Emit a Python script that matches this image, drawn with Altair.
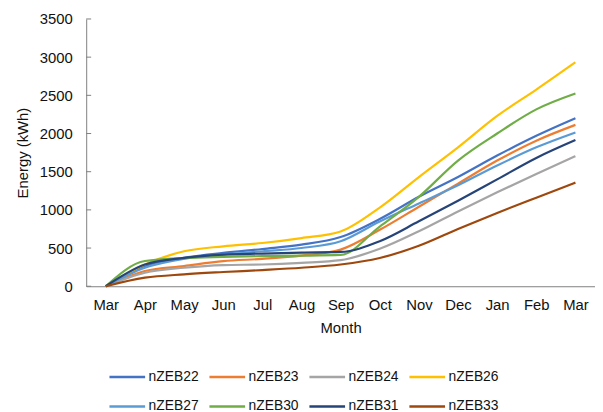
import altair as alt
import pandas as pd

months = ["Mar", "Apr", "May", "Jun", "Jul", "Aug", "Sep", "Oct", "Nov", "Dec", "Jan", "Feb", "Mar"]

series_names = ["nZEB22", "nZEB23", "nZEB24", "nZEB26", "nZEB27", "nZEB30", "nZEB31", "nZEB33"]
nZEB22 = [0, 264, 372, 436, 488, 544, 644, 880, 1171, 1430, 1711, 1970, 2200]
nZEB23 = [0, 199, 264, 328, 359, 402, 480, 739, 1041, 1344, 1646, 1906, 2113]
nZEB24 = [0, 177, 242, 277, 285, 307, 341, 490, 720, 980, 1230, 1470, 1703]
nZEB26 = [0, 285, 458, 523, 566, 631, 717, 1030, 1430, 1819, 2230, 2575, 2933]
nZEB27 = [0, 242, 359, 415, 458, 501, 588, 847, 1085, 1322, 1581, 1819, 2014]
nZEB30 = [0, 330, 370, 385, 395, 400, 410, 782, 1171, 1646, 2000, 2316, 2524]
nZEB31 = [0, 285, 372, 415, 428, 440, 449, 590, 850, 1120, 1400, 1680, 1914]
nZEB33 = [0, 112, 156, 186, 212, 242, 285, 370, 530, 750, 960, 1160, 1357]
colors = ["#4472C4", "#ED7D31", "#A5A5A5", "#FFC000", "#5B9BD5", "#70AD47", "#264478", "#9E480E"]
y_ticks = [0, 500, 1000, 1500, 2000, 2500, 3000, 3500]

all_series = [nZEB22, nZEB23, nZEB24, nZEB26, nZEB27, nZEB30, nZEB31, nZEB33]
rows = []
for name, vals in zip(series_names, all_series):
    for i, v in enumerate(vals):
        rows.append({"idx": i, "series": name, "value": v})
df = pd.DataFrame(rows)
ticks_df = pd.DataFrame({"t": y_ticks})

font = "Liberation Sans"
label_expr = "[" + ",".join("'%s'" % m for m in months) + "][datum.value]"

x_enc = alt.X("idx:O", title="Month",
              scale=alt.Scale(type="point", padding=0.5),
              axis=alt.Axis(labelExpr=label_expr, labelAngle=0, ticks=False,
                            domainColor="#7f7f7f", labelFontSize=15, titleFontSize=15,
                            labelPadding=11, titlePadding=9, labelFont=font, titleFont=font,
                            labelColor="#111", titleColor="#111", titleFontWeight="normal"))
y_scale = alt.Scale(domain=[0, 3500], nice=False)
y_axis = alt.Axis(values=y_ticks, format="d", labelOverlap=False, ticks=False,
                  grid=False, domainColor="#7f7f7f",
                  labelFontSize=15, titleFontSize=15, labelPadding=14, titlePadding=9,
                  labelFont=font, titleFont=font, labelColor="#111", titleColor="#111",
                  titleFontWeight="normal")

lines = alt.Chart(df).mark_line(interpolate="monotone", strokeWidth=2.2).encode(
    x=x_enc,
    y=alt.Y("value:Q", title="Energy (kWh)", scale=y_scale, axis=y_axis),
    color=alt.Color("series:N", scale=alt.Scale(domain=series_names, range=colors),
                    legend=alt.Legend(title=None, orient="none", legendX=22, legendY=342,
                                      direction="horizontal", columns=4, symbolType="stroke",
                                      symbolSize=1296, symbolStrokeWidth=2.5, labelFontSize=14,
                                      labelFont=font, labelColor="#111", columnPadding=5,
                                      rowPadding=3, labelOffset=2)),
)

tick_marks = alt.Chart(ticks_df).mark_rule(color="#7f7f7f", strokeWidth=1).encode(
    y=alt.Y("t:Q", title="Energy (kWh)", scale=y_scale, axis=y_axis),
    x=alt.value(0), x2=alt.value(5),
)

chart = alt.layer(lines, tick_marks).properties(
    width=514, height=270,
    padding={"left": 7, "top": 2, "right": 0, "bottom": 0},
).configure_view(stroke=None).configure_axis(grid=False)

chart.save("out.html", embed_options={"renderer": "svg", "actions": False})
